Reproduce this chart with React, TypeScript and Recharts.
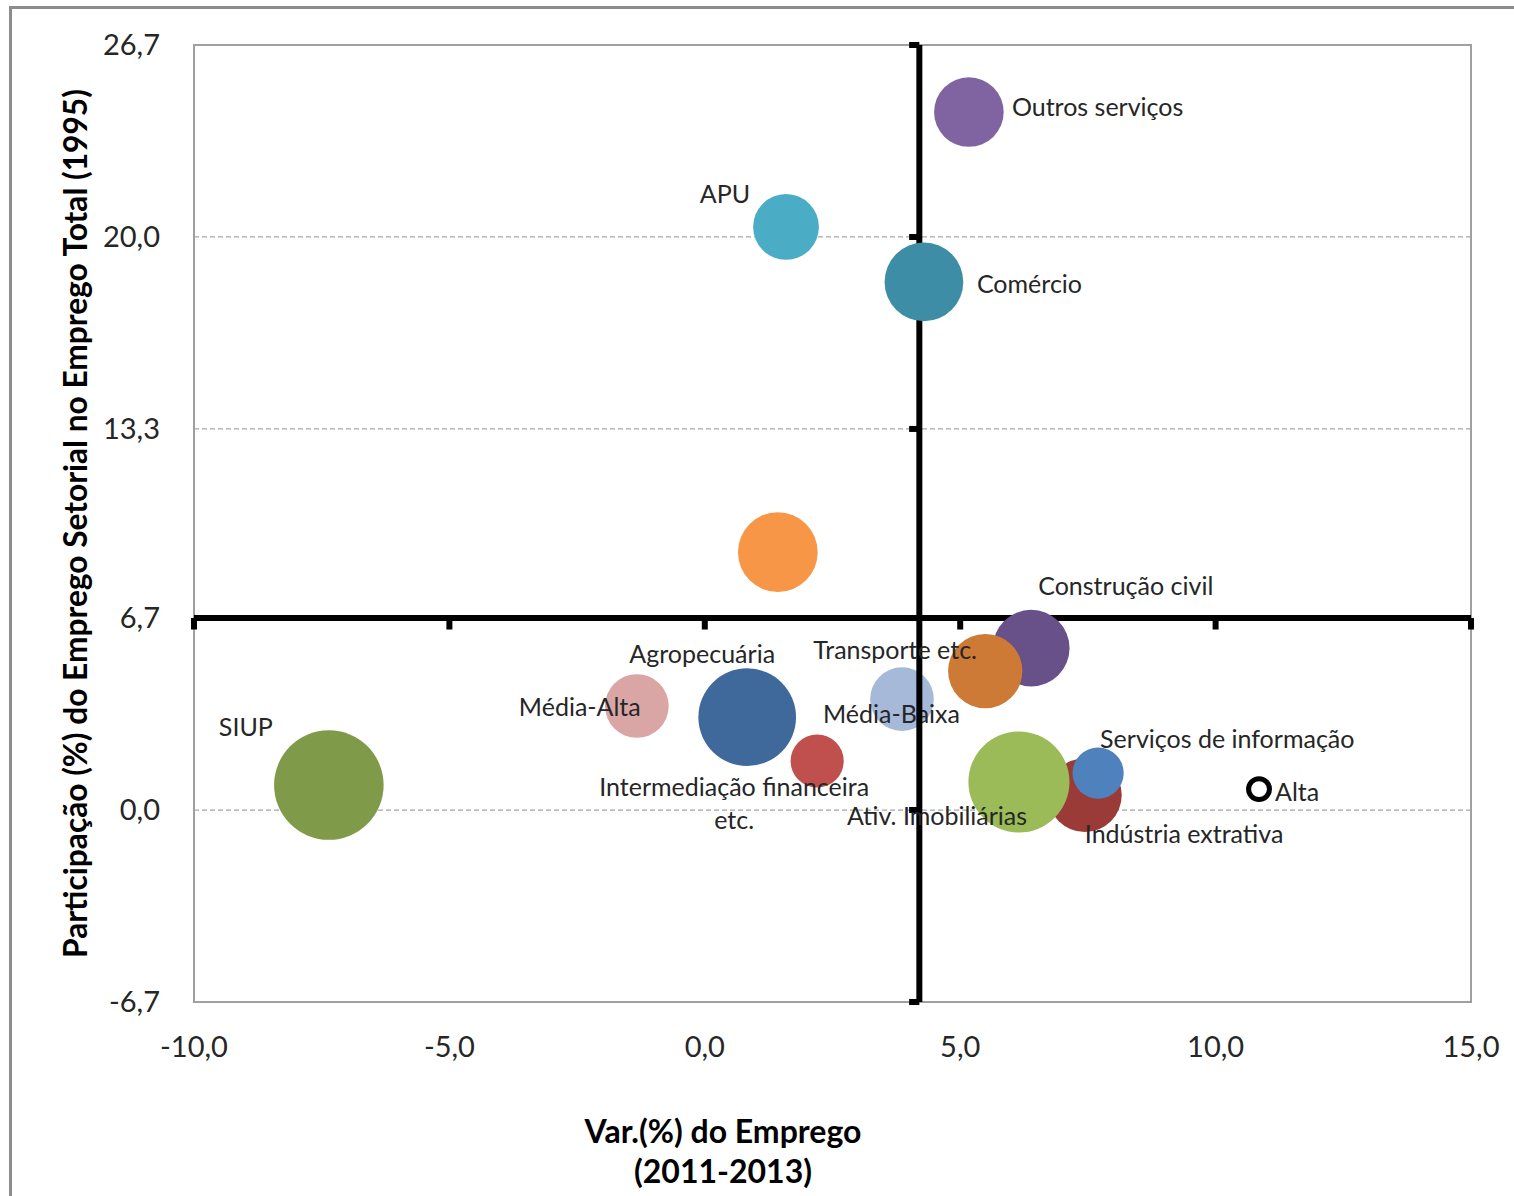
import React from 'react';
import {
  ScatterChart,
  Scatter,
  XAxis,
  YAxis,
  ZAxis,
  CartesianGrid,
  ReferenceLine,
  ReferenceArea,
} from 'recharts';

// Sectors, in drawing order (later entries are painted on top).
const sectors = [
  'Média-Baixa',
  'Indústria extrativa',
  'Ativ. Imobiliárias',
  'Serviços de informação',
  'Construção civil',
  'Transporte etc.',
  'Comércio',
  'Outros serviços',
  'APU',
  'Baixa',
  'Agropecuária',
  'Média-Alta',
  'Intermediação financeira etc.',
  'SIUP',
  'Alta',
];

// Var.(%) do Emprego (2011-2013)
const employmentChange = [3.86, 7.44, 6.15, 7.7, 6.39, 5.49, 4.29, 5.17, 1.59, 1.43, 0.83, -1.33, 2.2, -7.36, 10.85];

// Participação (%) do emprego setorial no emprego total (1995)
const employmentShare = [3.87, 0.52, 0.98, 1.29, 5.65, 4.85, 18.43, 24.36, 20.35, 9.0, 3.24, 3.63, 1.71, 0.87, 0.73];

// Bubble size values
const bubbleSize = [102, 137, 257, 66, 148, 139, 156, 122, 109, 160, 240, 102, 71, 302, 11];

const xTicks = [-10, -5, 0, 5, 10, 15];
const yTicks = [-6.7, 0, 6.7, 13.3, 20, 26.7];

// Where the quadrant axes cross
const crossX = 4.2;
const crossY = 6.7;

// Sectors painted beneath the quadrant axes
const underAxes = ['Média-Baixa'];

const FONT = "Lato, 'Liberation Sans', sans-serif";
const TEXT = '#262626';

const colors: Record<string, string> = {
  'Média-Baixa': '#a7b9d9',
  'Indústria extrativa': '#9b3b38',
  'Ativ. Imobiliárias': '#9bbb59',
  'Serviços de informação': '#4f81bd',
  'Construção civil': '#685088',
  'Transporte etc.': '#cd7a36',
  'Comércio': '#3c8da5',
  'Outros serviços': '#8064a2',
  'APU': '#4bacc6',
  'Baixa': '#f79646',
  'Agropecuária': '#40699b',
  'Média-Alta': '#d9a5a5',
  'Intermediação financeira etc.': '#c0504d',
  'SIUP': '#7f9a48',
  'Alta': '#ffffff',
};

type Placement = { dx: number; dy: number; anchor: 'start' | 'middle' | 'end'; lines?: string[] };

// Label offsets from each bubble centre, in pixels
const labelPlacement: Record<string, Placement> = {
  'Outros serviços': { dx: 43, dy: -6, anchor: 'start' },
  'APU': { dx: -61, dy: -34, anchor: 'middle' },
  'Comércio': { dx: 53, dy: 1, anchor: 'start' },
  'Construção civil': { dx: 7, dy: -63, anchor: 'start' },
  'Transporte etc.': { dx: -172, dy: -22, anchor: 'start' },
  'Agropecuária': { dx: -45, dy: -64, anchor: 'middle' },
  'Média-Alta': { dx: -118, dy: 0, anchor: 'start' },
  'Média-Baixa': { dx: -79, dy: 14, anchor: 'start' },
  'SIUP': { dx: -110, dy: -59, anchor: 'start' },
  'Serviços de informação': { dx: 2, dy: -35, anchor: 'start' },
  'Intermediação financeira etc.': {
    dx: -83,
    dy: 25,
    anchor: 'middle',
    lines: ['Intermediação financeira', 'etc.'],
  },
  'Ativ. Imobiliárias': { dx: -172, dy: 33, anchor: 'start' },
  'Indústria extrativa': { dx: 0, dy: 38, anchor: 'start' },
  'Alta': { dx: 16, dy: 2, anchor: 'start' },
};

const points = sectors.map((name, i) => ({
  name,
  x: employmentChange[i],
  y: employmentShare[i],
  z: bubbleSize[i],
}));

const backPoints = points.filter((p) => underAxes.includes(p.name));
const frontPoints = points.filter((p) => !underAxes.includes(p.name));

const fmt = (v: number) => v.toFixed(1).replace('.', ',');

function Bubble(props: any) {
  const { cx, cy, payload } = props;
  if (cx == null || cy == null) return null;
  const r =
    typeof props.width === 'number' && props.width > 0
      ? props.width / 2
      : Math.sqrt(Math.max(props.size || 0, 0) / Math.PI);
  const name: string = payload?.name;
  const hollow = name === 'Alta';
  const place = labelPlacement[name];
  const lines = place ? place.lines || [name] : [];
  return (
    <g>
      <circle
        cx={cx}
        cy={cy}
        r={r}
        fill={colors[name]}
        stroke={hollow ? '#000' : 'none'}
        strokeWidth={hollow ? 5 : 0}
      />
      {place &&
        lines.map((line, k) => (
          <text
            key={k}
            x={cx + place.dx}
            y={cy + place.dy + k * 33}
            textAnchor={place.anchor}
            dominantBaseline="central"
            fontFamily={FONT}
            fontSize={25}
            fill={TEXT}
          >
            {line}
          </text>
        ))}
    </g>
  );
}

function YTitle(props: any) {
  const vb = props.viewBox || { x: 34, y: 45, width: 160, height: 957 };
  const cx = vb.x + 41;
  const cy = vb.y + vb.height / 2;
  return (
    <text
      x={cx}
      y={cy}
      transform={`rotate(-90 ${cx} ${cy})`}
      textAnchor="middle"
      dominantBaseline="central"
      fontFamily={FONT}
      fontWeight="bold"
      fontSize={31.7}
      fill="#000"
    >
      Participação (%) do Emprego Setorial no Emprego Total (1995)
    </text>
  );
}

function XTitle(props: any) {
  const vb = props.viewBox || { x: 194, y: 1002, width: 1277, height: 60 };
  const cx = vb.x + 529;
  return (
    <g fontFamily={FONT} fontWeight="bold" fontSize={32} fill="#000">
      <text x={cx} y={vb.y + 128} textAnchor="middle" dominantBaseline="central">
        Var.(%) do Emprego
      </text>
      <text x={cx} y={vb.y + 168} textAnchor="middle" dominantBaseline="central">
        (2011-2013)
      </text>
    </g>
  );
}

export default function App() {
  return (
    <div
      style={{
        position: 'absolute',
        left: 0,
        top: 0,
        width: 1514,
        height: 1196,
        background: '#fff',
        overflow: 'hidden',
      }}
    >
      <div
        style={{
          position: 'absolute',
          left: 9,
          top: 6,
          width: 1505,
          height: 1190,
          borderLeft: '3px solid #8c8c8c',
          borderTop: '3px solid #8c8c8c',
          boxSizing: 'border-box',
        }}
      />
      <div style={{ position: 'absolute', left: 0, top: 0 }}>
        <ScatterChart width={1514} height={1196} margin={{ top: 45, right: 43, bottom: 134, left: 34 }}>
          <CartesianGrid vertical={false} stroke="#a6a6a6" strokeWidth={1.3} strokeDasharray="5 3" />
          <XAxis
            type="number"
            dataKey="x"
            domain={[-10, 15]}
            ticks={xTicks}
            interval={0}
            allowDataOverflow
            axisLine={false}
            tickLine={false}
            tickSize={0}
            tickMargin={34}
            height={60}
            tickFormatter={fmt}
            tick={{ fontSize: 29, fill: TEXT, fontFamily: FONT }}
            label={{ content: (p: any) => <XTitle {...p} /> }}
          />
          <YAxis
            type="number"
            dataKey="y"
            domain={[-6.7, 26.7]}
            ticks={yTicks}
            interval={0}
            allowDataOverflow
            axisLine={false}
            tickLine={false}
            tickSize={0}
            tickMargin={34}
            width={160}
            tickFormatter={fmt}
            tick={{ fontSize: 29, fill: TEXT, fontFamily: FONT }}
            label={{ content: (p: any) => <YTitle {...p} /> }}
          />
          <ZAxis type="number" dataKey="z" domain={[0, 300]} range={[0, 9425]} />
          <ReferenceArea
            x1={-10}
            x2={15}
            y1={-6.7}
            y2={26.7}
            fill="none"
            fillOpacity={0}
            stroke="#a0a0a0"
            strokeWidth={2}
          />
          <Scatter
            data={backPoints}
            isAnimationActive={false}
            shape={(p: any) => <Bubble {...p} />}
            zIndex={600}
          />
          <ReferenceLine x={crossX} stroke="#000" strokeWidth={6} zIndex={650} />
          <ReferenceLine y={crossY} stroke="#000" strokeWidth={6} zIndex={650} />
          {xTicks.map((t) => (
            <ReferenceLine
              key={`xt${t}`}
              segment={[
                { x: t, y: crossY },
                { x: t, y: crossY - 0.4 },
              ]}
              stroke="#000"
              strokeWidth={6}
              zIndex={650}
            />
          ))}
          {yTicks.map((t) => (
            <ReferenceLine
              key={`yt${t}`}
              segment={[
                { x: crossX, y: t },
                { x: crossX - 0.2, y: t },
              ]}
              stroke="#000"
              strokeWidth={6}
              zIndex={650}
            />
          ))}
          <Scatter
            data={frontPoints}
            isAnimationActive={false}
            shape={(p: any) => <Bubble {...p} />}
            zIndex={700}
          />
        </ScatterChart>
      </div>
    </div>
  );
}
